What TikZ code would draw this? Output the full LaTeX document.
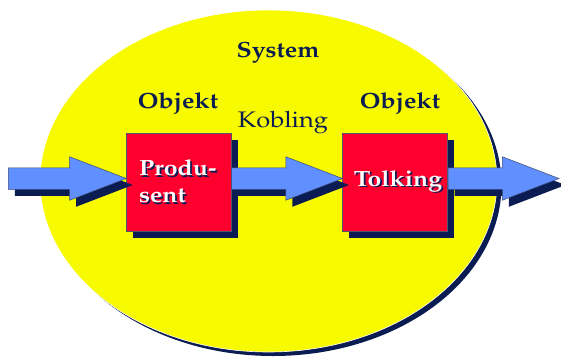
\documentclass[tikz,border=0pt]{standalone}
\usepackage[T1]{fontenc}
\usepackage{mathpazo}
\usetikzlibrary{shapes.geometric,shapes.arrows,shadows,positioning,calc}

\definecolor{sysyellow}{HTML}{F8FA00}
\definecolor{navy}{HTML}{0A1C52}
\definecolor{objred}{HTML}{FF002E}
\definecolor{flowblue}{HTML}{6090FF}

\newcommand{\wide}[1]{\scalebox{1.13}[1]{#1}}
\newcommand{\shtext}[1]{\wide{\rlap{\hspace{1.5pt}\raisebox{-1.5pt}{\color{navy}#1}}{\color{white}#1}}}

\begin{document}
\begin{tikzpicture}[x=1pt, y=-1pt,
  system/.style={ellipse, fill=sysyellow, draw=white, line width=0.6pt,
                 minimum width=457pt, minimum height=342pt, inner sep=0pt,
                 general shadow={fill=navy, shadow xshift=4.5pt, shadow yshift=-4pt}},
  obj/.style={rectangle, fill=objred, draw=gray!60!navy, line width=0.5pt,
              minimum width=105pt, minimum height=98pt, inner sep=0pt,
              font=\fontsize{22}{27}\selectfont\bfseries,
              general shadow={fill=navy, shadow xshift=6.5pt, shadow yshift=-6.5pt}},
  flow/.style={single arrow, fill=flowblue, draw=navy!80, line width=0.5pt,
               inner xsep=0pt, inner ysep=10.5pt, single arrow head extend=11pt,
               single arrow tip angle=42, anchor=tail,
               general shadow={fill=navy, shadow xshift=6.5pt, shadow yshift=-6.5pt}},
  lbl/.style={text=navy, inner sep=0pt, font=\fontsize{22}{26}\selectfont\bfseries}
]
\useasboundingbox (0,0) rectangle (561,356);

\node[system] (sys) at (268.5,181) {};
\node[lbl, anchor=base] (systxt) at (278,57) {\wide{System}};

% objects
\node[obj, align=left, text width=79pt, inner xsep=13pt] (prod) at (178.5,182)
  {\shtext{Produ-}\\\shtext{sent}};
\node[obj, right=111pt of prod] (tolk) {\hspace{6pt}\raisebox{7pt}{\shtext{Tolking}}};

\node[lbl, anchor=base] (obj1) at (178,108) {\wide{Objekt}};
\node[lbl, anchor=base] (obj2) at (400,108) {\wide{Objekt}};
\node[lbl, anchor=base, font=\fontsize{22.5}{26}\selectfont] (kob) at (283,127) {\wide{Kobling}};

% flow arrows
\coordinate (inlet) at (8,178.5);
\node[flow, minimum height=118pt] (inarr) at (inlet) {};
\node[flow, minimum height=111pt] (kobarr) at ($(prod.east)+(0,-3.5)$) {};
\node[flow, minimum height=111pt] (outarr) at ($(tolk.east)+(0,-3.5)$) {};
\end{tikzpicture}
\end{document}
